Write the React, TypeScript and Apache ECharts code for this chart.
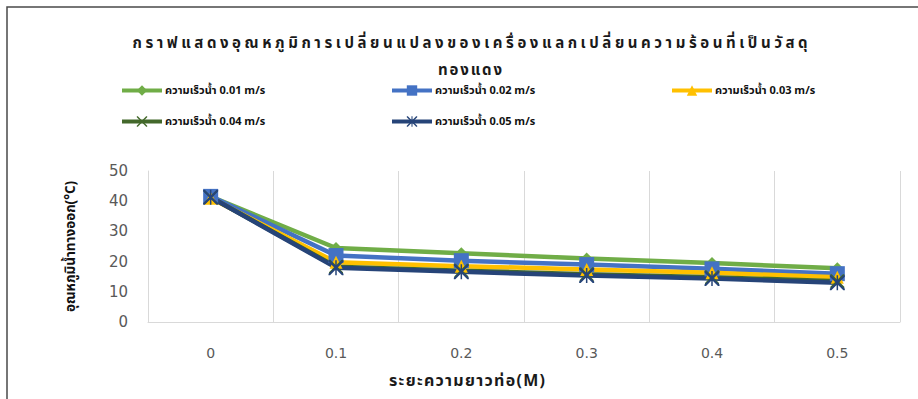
import React, { useEffect, useRef } from "react";
import * as echarts from "echarts";

// Pipe length positions (m) and outlet temperatures (°C) for each water velocity
const distances = ["0", "0.1", "0.2", "0.3", "0.4", "0.5"];
const yTicks = [0, 10, 20, 30, 40, 50];
const seriesNames = [
  "ความเร็วน้ำ 0.01 m/s",
  "ความเร็วน้ำ 0.02 m/s",
  "ความเร็วน้ำ 0.03 m/s",
  "ความเร็วน้ำ 0.04 m/s",
  "ความเร็วน้ำ 0.05 m/s",
];
const temp001 = [41.5, 24.5, 22.8, 21.0, 19.5, 17.8];
const temp002 = [41.6, 22.0, 20.3, 19.0, 17.6, 16.0];
const temp003 = [41.0, 19.8, 18.5, 17.4, 16.3, 14.8];
const temp004 = [41.3, 18.3, 17.0, 15.8, 14.8, 13.5];
const temp005 = [41.3, 18.0, 16.6, 15.4, 14.4, 13.0];

const titleLine1 = "กราฟแสดงอุณหภูมิการเปลี่ยนแปลงของเครื่องแลกเปลี่ยนความร้อนที่เป็นวัสดุ";
const titleLine2 = "ทองแดง";
const xAxisTitle = "ระยะความยาวท่อ(M)";
const yAxisTitle = "อุณหภูมิน้ำทางออก(°C)";

const COLORS = ["#70AD47", "#4472C4", "#FFC000", "#43682B", "#264478"];

// Filled "x" and "asterisk" marker outlines
const X_PATH =
  "path://M0,0 L2,0 L10,8 L18,0 L20,0 L20,2 L12,10 L20,18 L20,20 L18,20 L10,12 L2,20 L0,20 L0,18 L8,10 L0,2 Z";
const STAR_PATH =
  "path://M0,0 L2,0 L10,8 L18,0 L20,0 L20,2 L12,10 L20,18 L20,20 L18,20 L10,12 L2,20 L0,20 L0,18 L8,10 L0,2 Z M9,0 L11,0 L11,20 L9,20 Z";

const SYMBOLS = ["diamond", "rect", "triangle", X_PATH, STAR_PATH];
const SYMBOL_SIZES = [12, 15, 13, 14, 15];
const seriesData = [temp001, temp002, temp003, temp004, temp005];

const legendPos = [
  { left: 120, top: 85 },
  { left: 390, top: 85 },
  { left: 670, top: 85 },
  { left: 120, top: 116 },
  { left: 390, top: 116 },
];

const THAI_FONT = "'Noto Sans Thai', 'Noto Sans', 'DejaVu Sans', sans-serif";

// Lays a string out as letter-spaced glyph clusters so that it spans `width`
// pixels, centred on (cx, cy).
function spacedText(
  text: string,
  cx: number,
  cy: number,
  font: string,
  width: number,
  fill: string
) {
  const ctx = document.createElement("canvas").getContext("2d")!;
  ctx.font = font;
  const Seg = (Intl as any).Segmenter;
  const clusters: string[] = Seg
    ? Array.from(new Seg("th", { granularity: "grapheme" }).segment(text)).map(
        (s: any) => s.segment
      )
    : Array.from(text);
  const widths = clusters.map((c) => ctx.measureText(c).width);
  const natural = widths.reduce((a, b) => a + b, 0);
  const gap = clusters.length > 1 ? Math.max(0, (width - natural) / (clusters.length - 1)) : 0;
  const total = natural + gap * (clusters.length - 1);
  let x = cx - total / 2;
  return clusters.map((c, i) => {
    const el = {
      type: "text",
      x,
      y: cy,
      silent: true,
      style: { text: c, align: "left", verticalAlign: "middle", font, fill },
    };
    x += widths[i] + gap;
    return el;
  });
}

export default function App() {
  const ref = useRef<HTMLDivElement>(null);

  useEffect(() => {
    if (!ref.current) return;
    const chart = echarts.init(ref.current, null, { renderer: "svg" });

    const titleFont = `bold 15px ${THAI_FONT}`;
    const option: echarts.EChartsOption = {
      animation: false,
      backgroundColor: "#ffffff",
      grid: { left: 148, right: 18, top: 171, bottom: 77 },
      graphic: [
        {
          type: "rect",
          shape: { x: 7, y: 7, width: 960, height: 440 },
          style: { fill: "none", stroke: "#4a4a4a", lineWidth: 1.5 },
          silent: true,
        },
        ...spacedText(titleLine1, 470, 43, titleFont, 675, "#1a1a1a"),
        ...spacedText(titleLine2, 470, 70, titleFont, 64, "#1a1a1a"),
        ...spacedText(xAxisTitle, 467, 381, `bold 16px ${THAI_FONT}`, 156, "#1a1a1a"),
      ] as any,
      legend: seriesNames.map((name, i) => ({
        data: [name],
        left: legendPos[i].left,
        top: legendPos[i].top,
        padding: 0,
        itemWidth: 40,
        itemHeight: 13,
        itemGap: 4,
        lineStyle: { width: 4 },
        textStyle: {
          fontFamily: THAI_FONT,
          fontWeight: "bold",
          fontSize: 11,
          color: "#111111",
          padding: [0, 0, 0, -2],
        },
      })),
      xAxis: {
        type: "category",
        data: distances,
        boundaryGap: true,
        axisLine: { show: true, lineStyle: { color: "#D9D9D9", width: 1 } },
        axisTick: { show: false },
        axisLabel: {
          margin: 24,
          fontSize: 14,
          color: "#595959",
          fontFamily: "'DejaVu Sans', sans-serif",
        },
        splitLine: { show: true, lineStyle: { color: "#D9D9D9", width: 1 } },
      },
      yAxis: {
        type: "value",
        min: yTicks[0],
        max: yTicks[yTicks.length - 1],
        interval: 10,
        axisLine: { show: true, lineStyle: { color: "#D9D9D9", width: 1 } },
        axisTick: { show: false },
        splitLine: { show: false },
        axisLabel: {
          margin: 20,
          fontSize: 15,
          color: "#595959",
          fontFamily: "'DejaVu Sans', sans-serif",
        },
        name: yAxisTitle,
        nameLocation: "middle",
        nameGap: 70,
        nameTextStyle: {
          fontFamily: THAI_FONT,
          fontWeight: "bold",
          fontSize: 13.5,
          color: "#111111",
        },
      },
      series: seriesNames.map((name, i) => ({
        name,
        type: "line",
        data: seriesData[i],
        symbol: SYMBOLS[i],
        symbolSize: SYMBOL_SIZES[i],
        symbolKeepAspect: true,
        showAllSymbol: true,
        lineStyle: { color: COLORS[i], width: 4.5 },
        itemStyle: { color: COLORS[i], borderWidth: 0 },
        emphasis: { disabled: true },
      })),
    };

    chart.setOption(option);
    return () => chart.dispose();
  }, []);

  return (
    <div
      ref={ref}
      style={{ position: "absolute", left: 0, top: 0, width: 918, height: 399 }}
    />
  );
}
